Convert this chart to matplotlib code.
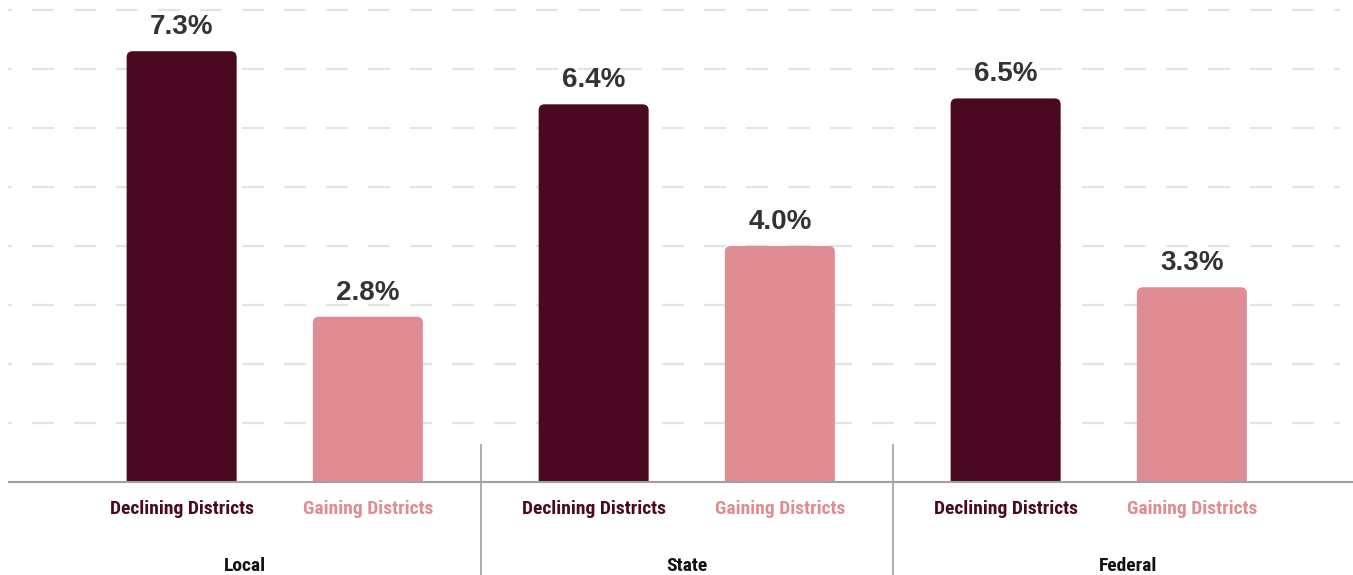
import matplotlib
matplotlib.use("Agg")
import matplotlib.pyplot as plt
from matplotlib.patches import FancyBboxPatch
from matplotlib import font_manager
import numpy as np

# Data
groups = ["Local", "State", "Federal"]
series = ["Declining Districts", "Gaining Districts"]
declining = [7.3, 6.4, 6.5]
gaining = [2.8, 4.0, 3.3]
colors = ["#4A0821", "#E08C93"]

# pick a condensed face for the category labels when one is available
fonts = font_manager.fontManager.ttflist
names = {f.name for f in fonts}
narrow_family, narrow_stretch, narrow_size = "Roboto", "normal", 12.5
for cand in ["Liberation Sans Narrow", "Roboto Condensed", "Open Sans Condensed",
             "DejaVu Sans Condensed"]:
    if cand in names:
        narrow_family, narrow_stretch, narrow_size = cand, "normal", 14
        break
else:
    cond = [f for f in fonts if f.stretch in ("condensed", "semi-condensed")
            and f.name in ("DejaVu Sans", "Roboto", "Open Sans", "Noto Sans", "Lato", "Inter")]
    if cond:
        narrow_family, narrow_stretch, narrow_size = cond[0].name, "condensed", 13.5
value_font = "Liberation Sans"

W, H, DPI = 1353, 575, 100
fig = plt.figure(figsize=(W / DPI, H / DPI), dpi=DPI)
base_px = 482
top_px = 4
ax = fig.add_axes([0, (H - base_px) / H, 1, (base_px - top_px) / H])

ymax = 8.1
spacing_px = 412.0
xleft = -274.75 / spacing_px
xright = (W - 274.75) / spacing_px
ax.set_ylim(0, ymax)
ax.set_xlim(xleft, xright)
ax.axis("off")

x = np.arange(len(groups))
offset = 0.226
width = 0.267

# dashed gridlines (about 22 px on, 20 px off)
grid_lw = 1.6
pt = 72 / DPI
on, off_, phase = 22 * pt / grid_lw, 20 * pt / grid_lw, 18 * pt / grid_lw
for yv in range(1, 9):
    ax.plot([xleft + 8 / spacing_px, xright - 13 / spacing_px], [yv, yv], color="#E3E3E3",
            lw=grid_lw, linestyle=(phase, (on, off_)), dash_capstyle="butt",
            zorder=0, clip_on=False)

# baseline
ax.plot([xleft + 8 / spacing_px, xright], [0, 0], color="#A0A0A0", lw=1.5,
        zorder=3, clip_on=False, solid_capstyle="butt")

# px per data unit in each direction, for round corners
px_x = W / (xright - xleft)
px_y = (base_px - top_px) / ymax
aspect = px_x / px_y
radius = 6 / px_x

for vals, off, col, name in [(declining, -offset, colors[0], series[0]),
                             (gaining, offset, colors[1], series[1])]:
    bars = ax.bar(x + off, vals, width=width, color=col, zorder=2)
    for b, v in zip(bars, vals):
        b.set_visible(False)
        x0 = b.get_x()
        p = FancyBboxPatch((x0, -0.5), b.get_width(), v + 0.5,
                           boxstyle=f"round,pad=0,rounding_size={radius}",
                           mutation_aspect=aspect, facecolor=col,
                           edgecolor="none", zorder=2)
        ax.add_patch(p)
        ax.annotate(f"{v:.1f}%", xy=(x0 + b.get_width() / 2, v),
                    xytext=(0, 11), textcoords="offset pixels",
                    ha="center", va="bottom", fontsize=20, fontweight="bold",
                    color="#333333", family=value_font, annotation_clip=False)
        ax.annotate(name, xy=(x0 + b.get_width() / 2, 0), xytext=(0, -27),
                    textcoords="offset pixels", ha="center", va="center",
                    fontsize=narrow_size, fontweight="bold", color=col,
                    family=narrow_family, fontstretch=narrow_stretch,
                    annotation_clip=False)

# group separators and group labels
seps = [(x[i] + offset + x[i + 1] - offset) / 2 for i in range(len(groups) - 1)]
for s in seps:
    ax.plot([s, s], [37 / px_y, -93 / px_y], color="#A0A0A0", lw=1.2,
            clip_on=False, zorder=3)
bounds = [xleft + 10 / spacing_px] + seps + [xright + 10 / spacing_px]
for i, g in enumerate(groups):
    cx = (bounds[i] + bounds[i + 1]) / 2
    ax.annotate(g, xy=(cx, 0), xytext=(0, -84), textcoords="offset pixels",
                ha="center", va="center", fontsize=narrow_size, fontweight="bold",
                color="#111111", family=narrow_family, fontstretch=narrow_stretch,
                annotation_clip=False)

fig.savefig("out.png", dpi=DPI)
